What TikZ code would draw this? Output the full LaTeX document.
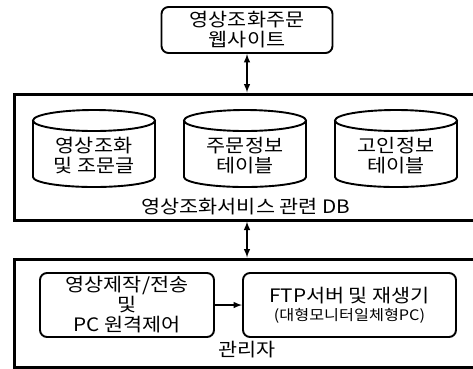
\documentclass[tikz,border=0pt]{standalone}
\usepackage{fontspec}
\setmainfont{Noto Sans CJK KR}[FakeStretch=1.12]
\usetikzlibrary{positioning}
\tikzset{
  box/.style={draw, line width=1.9pt, rounded corners=7pt, align=center, inner sep=1pt},
  frame/.style={draw, line width=3pt},
  lbl/.style={font=\fontsize{18.5}{20}\selectfont, align=center},
}
\begin{document}
\begin{tikzpicture}[>=latex, x=1pt, y=-1pt]
  \useasboundingbox (0,0) rectangle (473,368);
  % outer frames
  \node[frame, minimum width=466pt, minimum height=126pt] (dbframe) at (247,157) {};
  \node[frame, minimum width=466pt, minimum height=108pt] (mgrframe) at (247,313) {};
  % web site
  \node[box, lbl, minimum width=171pt, minimum height=46pt] (web) at (247,30) {영상조화주문\\웹사이트};
  % db tables
  \foreach \cx/\nm/\txt in {94/cyl1/{영상조화\\및 조문글}, 245/cyl2/{주문정보\\테이블}, 396/cyl3/{고인정보\\테이블}} {
    \draw[line width=1.9pt] (\cx-61,120.5) -- (\cx-61,177) arc (180:0:61 and 10) -- (\cx+61,120.5);
    \draw[line width=1.9pt] (\cx,120.5) ellipse (61 and 10.5);
    \node[lbl] (\nm) at (\cx,156) {\txt};
  }
  \node[lbl] (dblabel) at (246,207) {영상조화서비스 관련 DB};
  % manager
  \node[box, lbl, minimum width=174pt, minimum height=64pt] (job) at (127,305) {영상제작/전송\\및\\PC 원격제어};
  \node[box, lbl, minimum width=213pt, minimum height=64pt] (ftp) at (349.5,305) {FTP서버 및 재생기\\[-2pt]{\fontsize{14.5}{16}\selectfont (대형모니터일체형PC)}};
  \node[lbl] (mgrlabel) at (247,350) {관리자};
  % connectors
  \draw[<->, line width=1.9pt] (web) -- (dbframe);
  \draw[<->, line width=1.9pt] (dbframe) -- (mgrframe);
  \draw[->, line width=1.9pt] (job) -- (ftp);
\end{tikzpicture}
\end{document}
